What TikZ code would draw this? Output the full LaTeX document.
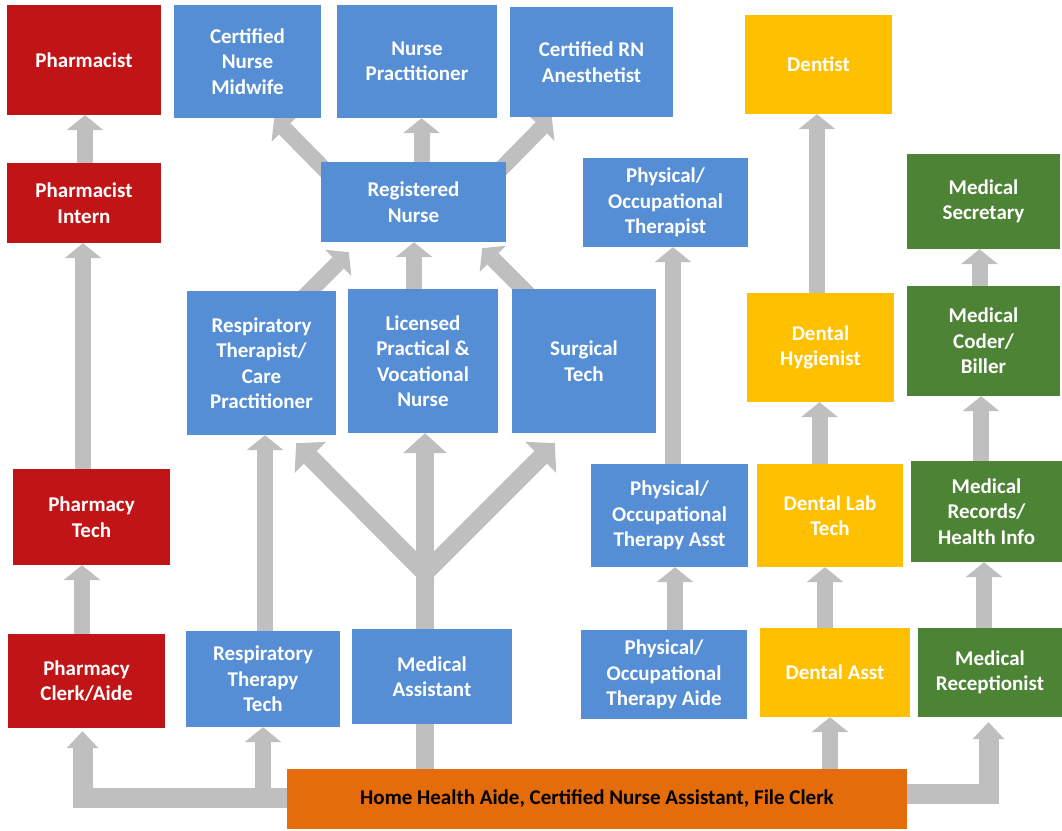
\documentclass[tikz,border=0pt]{standalone}
\usepackage{fontspec}
\setmainfont{Carlito}
\usetikzlibrary{arrows.meta}

\definecolor{pharmred}{RGB}{192,20,22}
\definecolor{nurseblue}{RGB}{85,142,213}
\definecolor{dentalgold}{RGB}{255,192,0}
\definecolor{officegreen}{RGB}{76,131,53}
\definecolor{entryorange}{RGB}{228,108,10}
\definecolor{arrowgray}{RGB}{191,191,191}

\newcommand{\boxfont}{\fontsize{21}{25.5}\selectfont\bfseries}

\pgfdeclarelayer{bg}
\pgfsetlayers{bg,main}

\tikzset{
    box/.style={rectangle, inner sep=0pt, align=center, text=white, font=\boxfont},
    size/.style 2 args={minimum width=#1pt, minimum height=#2pt},
    pharm/.style={box, fill=pharmred},
    nurse/.style={box, fill=nurseblue},
    dental/.style={box, fill=dentalgold},
    office/.style={box, fill=officegreen},
    entrybox/.style={box, fill=entryorange, text=black},
    climb/.style={draw=arrowgray, line width=16pt, -{Triangle[length=15pt, width=37pt, line width=0pt]}},
    branch/.style={draw=arrowgray, line width=18pt, -{Triangle[length=20pt, width=44pt, line width=0pt]}},
    feed/.style={draw=arrowgray, line width=20pt, -{Triangle[length=17pt, width=32pt, line width=0pt]}},
    trunk/.style={draw=arrowgray, line width=18pt}
}

\begin{document}
\begin{tikzpicture}[x=1pt, y=-1pt]
        \useasboundingbox (0,0) rectangle (1062,830);

        % Farmacia
        \node[pharm, size={154}{110}] (pharmacist) at (84,60) {Pharmacist};
        \node[pharm, size={154}{80}] (intern) at (84,203) {Pharmacist\\Intern};
        \node[pharm, size={157}{96}] (ptech) at (91.5,517) {Pharmacy\\Tech};
        \node[pharm, size={157}{94}] (pclerk) at (86.5,681) {Pharmacy\\Clerk/Aide};

        % Infermieri e terapisti
        \node[nurse, size={147}{113}] (midwife) at (247.5,61.5) {Certified\\Nurse\\Midwife};
        \node[nurse, size={160}{113}] (np) at (417,61.5) {Nurse\\Practitioner};
        \node[nurse, size={163}{110}] (crna) at (591.5,62) {Certified RN\\Anesthetist};
        \node[nurse, size={185}{80}] (rn) at (413.5,202) {Registered\\Nurse};
        \node[nurse, size={149}{144}] (rt) at (261.5,363) {Respiratory\\Therapist/\\Care\\Practitioner};
        \node[nurse, size={150}{144}] (lpn) at (423,361) {Licensed\\Practical \&\\Vocational\\Nurse};
        \node[nurse, size={144}{144}] (surg) at (584,361) {Surgical\\Tech};
        \node[nurse, size={154}{96}] (rtt) at (263,679) {Respiratory\\Therapy\\Tech};
        \node[nurse, size={160}{95}] (ma) at (432,676.5) {Medical\\Assistant};
        \node[nurse, size={165}{89}] (pot) at (665.5,202.5) {Physical/\\Occupational\\Therapist};
        \node[nurse, size={157}{103}] (pota) at (669.5,515.5) {Physical/\\Occupational\\Therapy Asst};
        \node[nurse, size={166}{89}] (potaide) at (664,674.5) {Physical/\\Occupational\\Therapy Aide};

        % Dentisti
        \node[dental, size={147}{99}] (dentist) at (818.5,64.5) {Dentist};
        \node[dental, size={147}{109}] (hyg) at (820.5,347.5) {Dental\\Hygienist};
        \node[dental, size={146}{103}] (dlt) at (830,515.5) {Dental Lab\\Tech};
        \node[dental, size={150}{89}] (da) at (835,672.5) {Dental Asst};

        % Ufficio
        \node[office, size={153}{95}] (msec) at (983.5,201.5) {Medical\\Secretary};
        \node[office, size={153}{110}] (coder) at (983.5,341) {Medical\\Coder/\\Biller};
        \node[office, size={151}{101}] (records) at (986.5,511.5) {Medical\\Records/\\Health Info};
        \node[office, size={144}{89}] (recept) at (990,672.5) {Medical\\Receptionist};

        % Base
        \node[entrybox, size={620}{60}] (entry) at (597,799) {Home Health Aide, Certified Nurse Assistant, File Clerk};

        \coordinate (fork) at (425,573);
        \coordinate (lcorner) at (82.5,798);
        \coordinate (rcorner) at (988.5,794);

        \begin{pgfonlayer}{bg}
        % Frecce verticali
        \draw[climb] (pclerk.north -| 82,0) -- (ptech.south -| 82,0);
        \draw[climb] (ptech.north -| 83,0) -- (intern.south -| 83,0);
        \draw[climb] (intern.north -| 85,0) -- (pharmacist.south -| 85,0);
        \draw[climb] (rtt.north -| 265,0) -- (rt.south -| 265,0);
        \draw[climb] (lpn.north -| 414,0) -- (rn.south -| 414,0);
        \draw[climb] (rn.north -| 421.5,0) -- (np.south -| 421.5,0);
        \draw[climb] (pota.north -| 673,0) -- (pot.south -| 673,0);
        \draw[climb] (potaide.north -| 675,0) -- (pota.south -| 675,0);
        \draw[climb] (hyg.north -| 817,0) -- (dentist.south -| 817,0);
        \draw[climb] (dlt.north -| 819.5,0) -- (hyg.south -| 819.5,0);
        \draw[climb] (da.north -| 825,0) -- (dlt.south -| 825,0);
        \draw[climb] (coder.north -| 979.5,0) -- (msec.south -| 979.5,0);
        \draw[climb] (records.north -| 981,0) -- (coder.south -| 981,0);
        \draw[climb] (recept.north -| 984,0) -- (records.south -| 984,0);
        \draw[climb] (entry.north -| 830,0) -- (da.south -| 830,0);

        % Frecce oblique
        \draw[climb] ([shift={(9,13)}]rn.north west) -- ([shift={(-47,0)}]midwife.south east);
        \draw[climb] ([shift={(-9,11)}]rn.north east) -- ([shift={(42,0)}]crna.south west);
        \draw[climb] ([shift={(-36,10)}]rt.north east) -- ([shift={(28,10)}]rn.south west);
        \draw[climb] ([shift={(21,10)}]surg.north west) -- ([shift={(-24,6)}]rn.south east);

        % Albero
        \draw[trunk] (entry.north -| fork) -- (fork);
        \draw[branch] (fork) -- (lpn.south -| fork);
        \draw[branch] (fork) -- ([shift={(-40,8)}]rt.south east);
        \draw[branch] (fork) -- ([shift={(43,10)}]surg.south west);

        % Collegamenti dalla base
        \draw[feed] (entry.west |- lcorner) -- (lcorner) -- ([yshift=-3pt]pclerk.south -| lcorner);
        \draw[climb] (rtt.south |- lcorner) -- (rtt.south);
        \draw[feed] (entry.east |- rcorner) -- (rcorner) -- ([yshift=-5pt]recept.south -| rcorner);
        \end{pgfonlayer}
    \end{tikzpicture}
\end{document}
